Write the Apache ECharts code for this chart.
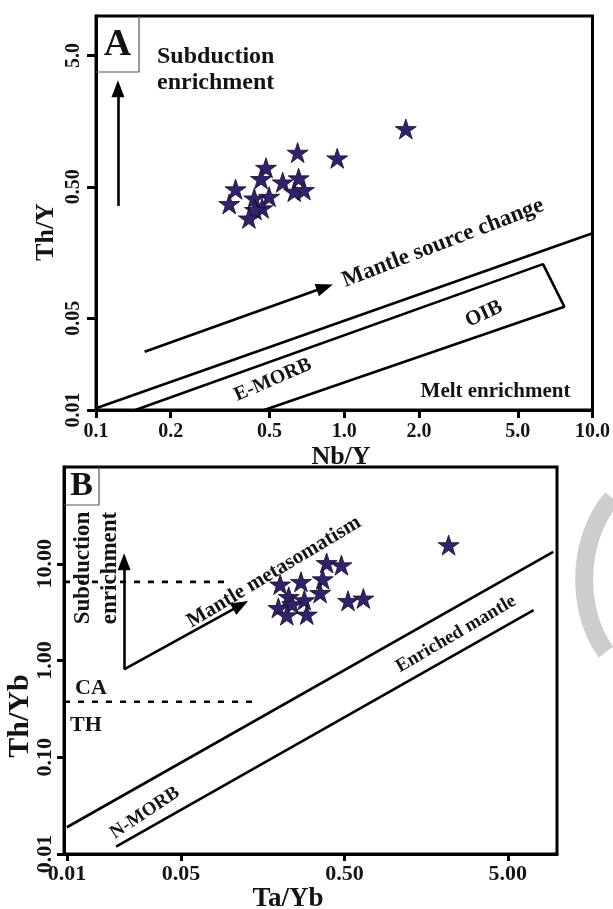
<!DOCTYPE html>
<html>
<head>
<meta charset="utf-8">
<script src="https://cdn.jsdelivr.net/npm/echarts@6/dist/echarts.min.js"></script>
<style>
html, body { margin: 0; padding: 0; background: #fff; }
#main { width: 613px; height: 909px; }
</style>
</head>
<body>
<div id="main"></div>
<script>
// panel A: Nb/Y vs Th/Y
var aNbY = [1.77, 0.649, 0.937, 0.484, 0.462, 0.565, 0.655, 0.365, 0.629, 0.688, 0.498, 0.344, 0.434, 0.467, 0.437, 0.413];
var aThY = [1.38, 0.912, 0.826, 0.700, 0.575, 0.542, 0.582, 0.480, 0.460, 0.474, 0.421, 0.371, 0.409, 0.344, 0.334, 0.288];
var aXTicks = [0.1, 0.2, 0.5, 1, 2, 5, 10];
var aXLabels = ['0.1', '0.2', '0.5', '1.0', '2.0', '5.0', '10.0'];
var aYTicks = [0.01, 0.05, 0.5, 5];
var aYLabels = ['0.01', '0.05', '0.50', '5.0'];

// panel B: Ta/Yb vs Th/Yb
var bTaYb = [0.389, 0.479, 0.202, 0.271, 0.368, 0.355, 0.228, 0.284, 0.239, 0.197, 0.222, 0.294, 0.526, 0.653, 2.17];
var bThYb = [10.2, 9.67, 6.11, 6.50, 6.93, 5.00, 4.55, 4.21, 3.83, 3.50, 2.94, 2.99, 4.14, 4.38, 15.6];
var bXTicks = [0.01, 0.05, 0.5, 5];
var bXLabels = ['0.01', '0.05', '0.50', '5.00'];
var bYTicks = [0.01, 0.1, 1, 10];
var bYLabels = ['0.01', '0.10', '1.00', '10.00'];

// reference lines and arrows, [x, y] points
var aUpperLine = [[0.1, 0.0103], [10, 0.222]];
var aOibBox = [[0.144, 0.0100], [6.32, 0.129], [7.70, 0.0612], [0.476, 0.0100]];
var aSourceArrow = [[0.157, 0.0278], [0.835, 0.086]];
var aSubdArrow = [[0.1226, 0.358], [0.1226, 2.79]];
var bUpperLine = [[0.01, 0.0189], [9.48, 13.3]];
var bLowerLine = [[0.02, 0.0119], [7.19, 3.32]];
var bSubdArrow = [[0.0224, 0.81], [0.0224, 10.5]];
var bMetaArrow = [[0.0224, 0.81], [0.1157, 3.73]];
var bCaUpper = [[0.0096, 6.5], [0.1, 6.5]];
var bCaLower = [[0.0096, 0.374], [0.138, 0.374]];

var STAR = 'path://M50,0L61.23,34.55L97.55,34.55L68.17,55.9L79.39,90.45L50,69.1L20.61,90.45L31.83,55.9L2.45,34.55L38.77,34.55Z';
var SERIF = '"Liberation Serif", "DejaVu Serif", serif';
var INK = '#141414';

function zip(xs, ys) {
    var out = [];
    for (var i = 0; i < xs.length; i++) out.push([xs[i], ys[i]]);
    return out;
}

function pickLabel(ticks, labels) {
    return function (v) {
        var best = 0;
        for (var i = 1; i < ticks.length; i++) {
            if (Math.abs(Math.log(ticks[i] / v)) < Math.abs(Math.log(ticks[best] / v))) best = i;
        }
        return labels[best];
    };
}

function logAxis(grid, min, max, ticks, labels, fontSize, margin, rotate, tickLen) {
    return {
        type: 'log',
        logBase: 10,
        gridIndex: grid,
        min: min,
        max: max,
        axisLine: { show: true, onZero: false, lineStyle: { color: '#000', width: 3 } },
        axisTick: { show: true, length: tickLen, lineStyle: { color: '#000', width: 3 }, customValues: ticks },
        axisLabel: {
            customValues: ticks,
            formatter: pickLabel(ticks, labels),
            rotate: rotate,
            margin: margin,
            color: INK,
            fontFamily: SERIF,
            fontWeight: 'bold',
            fontSize: fontSize
        },
        splitLine: { show: false },
        minorTick: { show: false }
    };
}

function lineSeries(pts, idx, dashed) {
    return {
        type: 'line',
        xAxisIndex: idx,
        yAxisIndex: idx,
        data: pts,
        symbol: 'none',
        silent: true,
        animation: false,
        z: 3,
        lineStyle: { color: '#000', width: 2.6, type: dashed ? [6, 8] : 'solid' }
    };
}

function arrowSeries(pts, idx) {
    return {
        type: 'line',
        xAxisIndex: idx,
        yAxisIndex: idx,
        data: [],
        silent: true,
        animation: false,
        markLine: {
            silent: true,
            animation: false,
            symbol: ['none', 'triangle'],
            symbolSize: [13, 17],
            label: { show: false },
            lineStyle: { color: '#000', width: 2.6, type: 'solid' },
            data: [[{ coord: pts[0] }, { coord: pts[1] }]]
        }
    };
}

function starSeries(xs, ys, idx) {
    return {
        type: 'scatter',
        xAxisIndex: idx,
        yAxisIndex: idx,
        data: zip(xs, ys),
        symbol: STAR,
        symbolSize: [21, 20],
        z: 5,
        itemStyle: { color: '#33226b', borderColor: '#120c26', borderWidth: 0.8, opacity: 1 }
    };
}

function txt(s, x, y, size, deg, extra) {
    var el = {
        type: 'text',
        x: x,
        y: y,
        rotation: (deg || 0) * Math.PI / 180,
        z: 10,
        style: {
            text: s,
            font: 'bold ' + size + 'px ' + SERIF,
            fill: INK,
            align: 'center',
            verticalAlign: 'middle',
            textAlign: 'center',
            textVerticalAlign: 'middle'
        }
    };
    if (extra) for (var k in extra) el.style[k] = extra[k];
    return el;
}

var chart = echarts.init(document.getElementById('main'), null, { renderer: 'canvas' });

var option = {
    backgroundColor: '#fff',
    animation: false,
    grid: [
        { left: 96, top: 16, width: 497, height: 394, show: true, borderColor: '#000', borderWidth: 3 },
        { left: 64, top: 467, width: 493, height: 387, show: true, borderColor: '#000', borderWidth: 3 }
    ],
    xAxis: [
        logAxis(0, 0.1, 10, aXTicks, aXLabels, 20, 12, 0, 8),
        logAxis(1, 0.0096, 10, bXTicks, bXLabels, 22, 9, 0, 7)
    ],
    yAxis: [
        logAxis(0, 0.01, 10, aYTicks, aYLabels, 20, 12, 90, 9),
        logAxis(1, 0.01, 100, bYTicks, bYLabels, 22, 8, 90, 7)
    ],
    series: [
        lineSeries(aUpperLine, 0),
        lineSeries(aOibBox, 0),
        arrowSeries(aSourceArrow, 0),
        arrowSeries(aSubdArrow, 0),
        starSeries(aNbY, aThY, 0),
        lineSeries(bUpperLine, 1),
        lineSeries(bLowerLine, 1),
        lineSeries(bCaUpper, 1, true),
        lineSeries(bCaLower, 1, true),
        arrowSeries(bSubdArrow, 1),
        arrowSeries(bMetaArrow, 1),
        starSeries(bTaYb, bThYb, 1)
    ],
    graphic: [
        // faint watermark stroke at the right edge
        { type: 'bezierCurve', z: 0, shape: { x1: 612, y1: 498, cpx1: 576, cpy1: 540, cpx2: 576, cpy2: 612, x2: 606, y2: 652 }, style: { stroke: '#cdcdcd', lineWidth: 18, fill: null } },
        // panel A
        { type: 'polyline', z: 9, shape: { points: [[139, 16], [139, 72], [96, 72]] }, style: { stroke: '#555', lineWidth: 1.2, fill: null } },
        txt('A', 117.5, 45, 38),
        txt('Subduction\nenrichment', 157, 70, 24, 0, { align: 'left', textAlign: 'left', lineHeight: 26 }),
        txt('Mantle source change', 443, 243, 23, 21),
        txt('E-MORB', 273, 380, 20, 23.4),
        txt('OIB', 484, 314, 21, 25),
        txt('Melt enrichment', 495.5, 392, 21),
        txt('Th/Y', 46, 232, 26, 90),
        txt('Nb/Y', 341, 457, 26),
        // panel B
        { type: 'polyline', z: 9, shape: { points: [[99, 467], [99, 505], [64, 505]] }, style: { stroke: '#555', lineWidth: 1.2, fill: null } },
        txt('B', 81.5, 486, 34),
        txt('Subduction\nenrichment', 97, 568, 23, 90, { lineHeight: 27 }),
        txt('Mantle metasomatism', 274, 572, 21, 31),
        txt('Enriched mantle', 456, 634, 19, 30.4),
        txt('N-MORB', 145, 813, 19, 33.8),
        txt('CA', 91, 688, 22),
        txt('TH', 86, 725, 22),
        txt('Th/Yb', 20, 716, 30, 90),
        txt('Ta/Yb', 288, 899, 27)
    ]
};

chart.setOption(option);
window.addEventListener('resize', function () {
    chart.resize();
});
</script>
</body>
</html>
